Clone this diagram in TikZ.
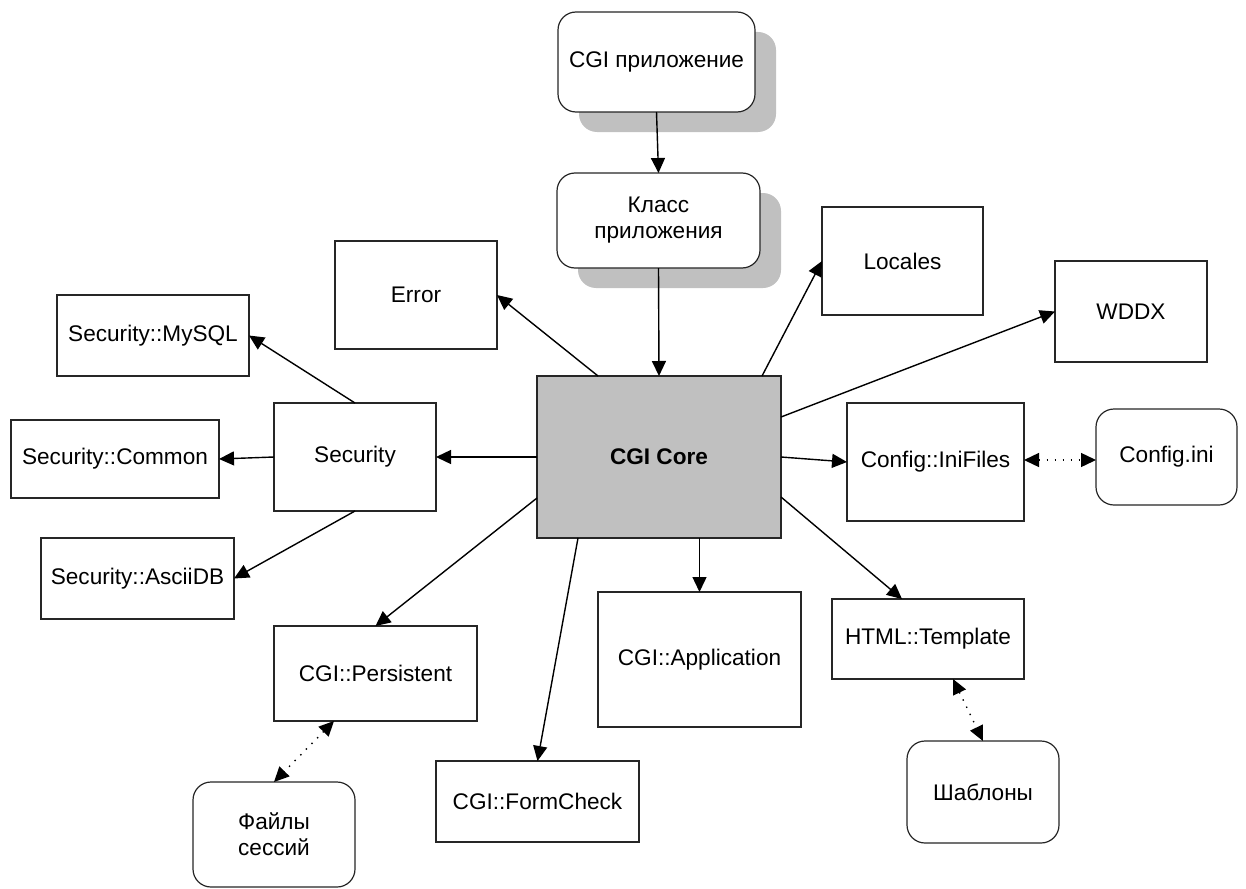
\documentclass[tikz,border=0pt]{standalone}
\usepackage{fontspec}
\setmainfont{Liberation Sans}
\usetikzlibrary{arrows.meta,calc,shadows}

\definecolor{coregray}{HTML}{C0C0C0}
\definecolor{shadowgray}{HTML}{C0C0C0}

\begin{document}
\begin{tikzpicture}[
  x=0.5pt, y=-0.5pt,
  font=\fontsize{11.3pt}{13pt}\selectfont,
  module/.style={draw=black!85, line width=0.6pt, rectangle, fill=white,
    inner sep=0pt, outer sep=0pt, align=center},
  store/.style={module, rounded corners=9pt},
  shadowed/.style={store, drop shadow={shadow xshift=10.5pt, shadow yshift=-10pt,
    opacity=1, fill=shadowgray}},
  core/.style={module, fill=coregray, font=\fontsize{11.3pt}{13pt}\selectfont\bfseries},
  link/.style={line width=0.7pt, -{Triangle[length=7.5pt,width=7pt]}},
  assoc/.style={line width=0.7pt, dash pattern=on 0.7pt off 3.3pt,
    {Triangle[length=7.5pt,width=7pt]}-{Triangle[length=7.5pt,width=7pt]}}
]
\useasboundingbox (0,0) rectangle (1246,888);

% application layers
\node[shadowed, minimum width=98.5pt, minimum height=50pt] (app) at (656.5,62) {CGI приложение};
\node[shadowed, minimum width=101.5pt, minimum height=47.5pt] (cls) at (658.5,220.5) {Класс\\приложения};

% core and its modules
\node[core, minimum width=122pt, minimum height=81pt] (core) at (659,457) {CGI Core};
\node[module, minimum width=81pt, minimum height=54pt] (err) at (416,295) {Error};
\node[module, minimum width=80.5pt, minimum height=54pt] (loc) at (902.5,261) {Locales};
\node[module, minimum width=76pt, minimum height=50.5pt] (wddx) at (1131,311.5) {WDDX};
\node[module, minimum width=88.5pt, minimum height=59pt] (ini) at (935.5,462) {Config::IniFiles};
\node[module, minimum width=96pt, minimum height=40pt] (tmpl) at (928,639) {HTML::Template};
\node[module, minimum width=101.5pt, minimum height=67.5pt] (appl) at (699.5,659.5) {CGI::Application};
\node[module, minimum width=101.5pt, minimum height=40.5pt] (form) at (537.5,801.5) {CGI::FormCheck};
\node[module, minimum width=101.5pt, minimum height=47.5pt] (pers) at (375.5,673.5) {CGI::Persistent};

% security subsystem
\node[module, minimum width=81pt, minimum height=54pt] (sec) at (355,457) {Security};
\node[module, minimum width=96pt, minimum height=40.5pt] (mysql) at (153,335.5) {Security::MySQL};
\node[module, minimum width=104pt, minimum height=39pt] (common) at (115,459) {Security::Common};
\node[module, minimum width=96.5pt, minimum height=40.5pt] (ascii) at (137.5,578.5) {Security::AsciiDB};

% external files
\node[store, minimum width=70.5pt, minimum height=48pt] (cfg) at (1166.5,457) {Config.ini};
\node[store, minimum width=76pt, minimum height=51pt] (shab) at (983,792) {Шаблоны};
\node[store, minimum width=81pt, minimum height=52.5pt] (files) at (274,834.5) {Файлы\\сессий};

% call chain
\draw[link] (app.south) -- (cls.north);
\draw[link] (cls.south) -- (core.north);

% core to modules
\draw[link] ($(core.north west)+(61,0)$) -- (err.east);
\draw[link] ($(core.north west)+(225,0)$) -- (loc.west);
\draw[link] ($(core.north east)+(0,41)$) -- (wddx.west);
\draw[link] (core.east) -- (ini.west);
\draw[link] ($(core.east)+(0,40)$) -- ($(tmpl.north west)+(70,0)$);
\draw[link] (appl.north |- core.south) -- (appl.north);
\draw[link] ($(core.south west)+(41,0)$) -- (form.north);
\draw[link] ($(core.west)+(0,41)$) -- (pers.north);
\draw[link] (core.west) -- (sec.east);

% security back-ends
\draw[link] (sec.north) -- (mysql.east);
\draw[link] (sec.west) -- (common.east);
\draw[link] (sec.south) -- (ascii.east);

% file associations
\draw[assoc] ($(ini.east)+(0,-2)$) -- ($(ini.east -| cfg.west)+(0,-2)$);
\draw[assoc] ($(tmpl.south west)+(121,0)$) -- (shab.north);
\draw[assoc] ($(pers.south west)+(60,0)$) -- (files.north);
\end{tikzpicture}
\end{document}
